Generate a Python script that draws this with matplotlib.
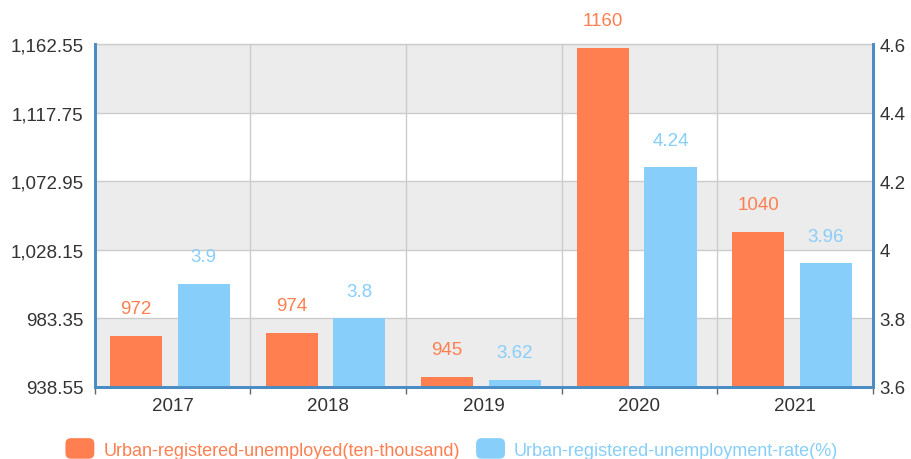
import matplotlib.pyplot as plt
from matplotlib.patches import Patch, FancyBboxPatch
from matplotlib.legend_handler import HandlerPatch
from matplotlib.ticker import FuncFormatter
import numpy as np

years = ['2017', '2018', '2019', '2020', '2021']
unemployed = [972, 974, 945, 1160, 1040]
unemp_rate = [3.9, 3.8, 3.62, 4.24, 3.96]
left_ticks = [938.55, 983.35, 1028.15, 1072.95, 1117.75, 1162.55]
right_ticks = [3.6, 3.8, 4.0, 4.2, 4.4, 4.6]

ORANGE = '#FF7F50'
BLUE = '#87CEFA'
AXIS_BLUE = '#4a8cc4'
GRID = '#cccccc'
TEXT = '#333333'

plt.rcParams['font.family'] = ['Liberation Sans', 'DejaVu Sans']


class RoundBox(HandlerPatch):
    # legend marker as a small rounded rectangle
    def create_artists(self, legend, orig_handle, xdescent, ydescent,
                       width, height, fontsize, trans):
        p = FancyBboxPatch((-xdescent, -ydescent - 2), width, height + 4,
                           boxstyle='round,pad=0,rounding_size=4',
                           facecolor=orig_handle.get_facecolor(),
                           edgecolor='none', transform=trans)
        return [p]


fig = plt.figure(figsize=(9.11, 4.6), dpi=100)
ax = fig.add_axes([0.104, 0.157, 0.854, 0.745])
ax2 = ax.twinx()

x = np.arange(len(years))

# alternating background bands
for i in range(len(left_ticks) - 1):
    color = '#ececec' if i % 2 == 0 else '#ffffff'
    ax.axhspan(left_ticks[i], left_ticks[i + 1], color=color, zorder=0, lw=0)

for y in left_ticks[1:]:
    ax.axhline(y, color=GRID, lw=1, zorder=1)
for b in np.arange(0.5, len(years) - 0.5, 1):
    ax.axvline(b, color=GRID, lw=1, zorder=1)

w = 0.335
bars1 = ax.bar(x - 0.235, np.array(unemployed) - left_ticks[0], w,
               bottom=left_ticks[0], color=ORANGE, zorder=2)
bars2 = ax2.bar(x + 0.2, np.array(unemp_rate) - right_ticks[0], w,
                bottom=right_ticks[0], color=BLUE, zorder=2)

for xi, v in zip(x - 0.235, unemployed):
    ax.annotate(str(v), (xi, v), xytext=(0, 19.5), textcoords='offset points',
                ha='center', va='center', color=ORANGE, fontsize=13.5,
                annotation_clip=False)
for xi, v in zip(x + 0.2, unemp_rate):
    ax2.annotate(f'{v:g}', (xi, v), xytext=(0, 19.5), textcoords='offset points',
                 ha='center', va='center', color=BLUE, fontsize=13.5,
                 annotation_clip=False)

ax.set_xlim(-0.5, len(years) - 0.5)
ax.set_ylim(left_ticks[0], left_ticks[-1])
ax2.set_ylim(right_ticks[0], right_ticks[-1])

ax.set_yticks(left_ticks)
ax.yaxis.set_major_formatter(FuncFormatter(lambda v, p: f'{v:,.2f}'))
ax2.set_yticks(right_ticks)
ax2.yaxis.set_major_formatter(FuncFormatter(lambda v, p: f'{v:g}'))

ax.set_xticks(x)
ax.set_xticklabels(years)
ax.set_xticks(np.arange(-0.5, len(years), 1), minor=True)
ax.tick_params(axis='x', which='major', length=0, labelsize=13.5, colors=TEXT, pad=7)
ax.tick_params(axis='x', which='minor', length=5, color='#666666', width=1)
ax.tick_params(axis='y', length=0, labelsize=13.5, colors=TEXT, pad=8)
ax2.tick_params(axis='y', length=0, labelsize=13.5, colors=TEXT, pad=5)

for a in (ax, ax2):
    a.spines['top'].set_visible(False)
    for s in ('left', 'right', 'bottom'):
        a.spines[s].set_color(AXIS_BLUE)
        a.spines[s].set_linewidth(2)
ax.spines['top'].set_visible(True)
ax.spines['top'].set_color(GRID)
ax.spines['top'].set_linewidth(1)

handles = [Patch(facecolor=ORANGE), Patch(facecolor=BLUE)]
leg = fig.legend(handles, ['Urban-registered-unemployed(ten-thousand)',
                           'Urban-registered-unemployment-rate(%)'],
                 loc='center', bbox_to_anchor=(0.496, 0.02), ncol=2,
                 frameon=False, fontsize=13, handlelength=1.6,
                 handleheight=0.9, handletextpad=0.5, columnspacing=0.9,
                 handler_map={Patch: RoundBox()})
for t, c in zip(leg.get_texts(), [ORANGE, BLUE]):
    t.set_color(c)

fig.savefig('out.png', dpi=100)
